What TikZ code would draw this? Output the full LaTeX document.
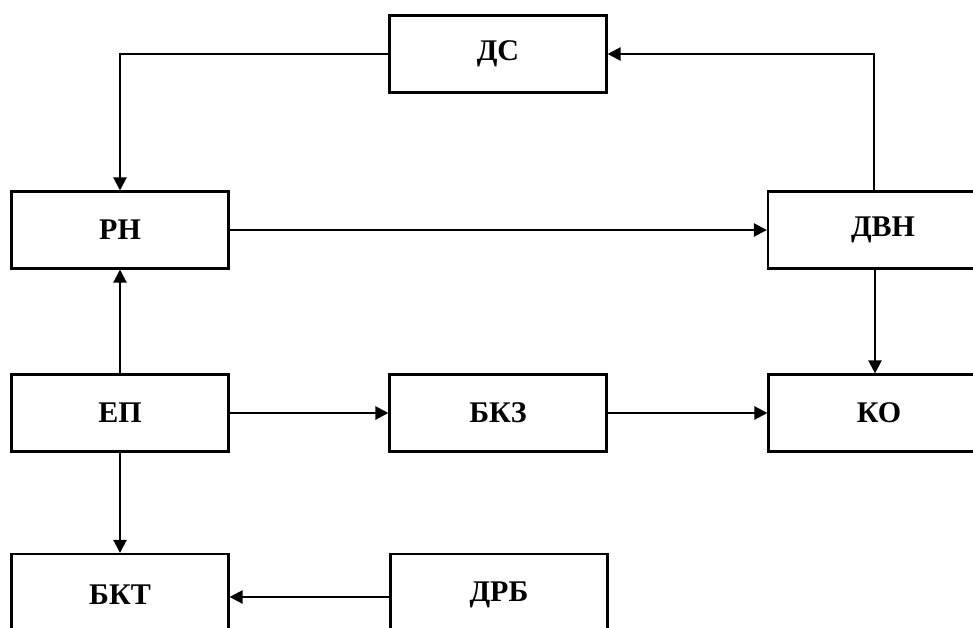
\documentclass[tikz,border=0pt]{standalone}
\usepackage{fontspec}
\setmainfont{Liberation Serif}
\usetikzlibrary{arrows.meta}
\begin{document}
\begin{tikzpicture}[x=1pt,y=-1pt,
  blk/.style={draw,line width=2.1pt,rectangle,inner sep=0pt,
    minimum width=217pt,minimum height=77pt,
    font=\fontsize{30}{32}\selectfont\bfseries},
  wideblk/.style={blk,minimum width=230pt},
  conn/.style={line width=2.2pt},
  arr/.style={conn,-{Triangle[length=13pt,width=13pt]}}]
\useasboundingbox (0,0) rectangle (973,628);
\clip (0,0) rectangle (973,628);
\node[blk] (ds) at (498,54) {\raisebox{-3pt}{ДС}};
\node[blk] (rn) at (120,230) {\raisebox{-3pt}{РН}};
\node[wideblk] (dvn) at (883,230) {\raisebox{-3pt}{ДВН}};
\node[blk] (ep) at (120,413) {\raisebox{-3pt}{ЕП}};
\node[blk] (bkz) at (498,413) {\raisebox{-3pt}{БКЗ}};
\node[wideblk,minimum width=221pt] (ko) at (879,413) {\raisebox{-3pt}{КО}};
\node[blk,minimum height=82pt] (bkt) at (120,595) {БКТ};
\node[blk,minimum height=82pt] (drb) at (499,595) {ДРБ};
\draw[arr] (ds.west) -| (rn.north);
\draw[arr] ([xshift=-9pt]dvn.north) |- (ds.east);
\draw[arr] (rn.east) -- (dvn.west);
\draw[arr] (ep.north) -- (rn.south);
\draw[arr] ([xshift=-8pt]dvn.south) -- ([xshift=-4pt]ko.north);
\draw[arr] (ep.east) -- (bkz.west);
\draw[arr] (bkz.east) -- (ko.west);
\draw[arr] (ep.south) -- (bkt.north);
\draw[arr] ([yshift=-2pt]drb.west) -- ([yshift=-2pt]bkt.east);
\end{tikzpicture}
\end{document}
